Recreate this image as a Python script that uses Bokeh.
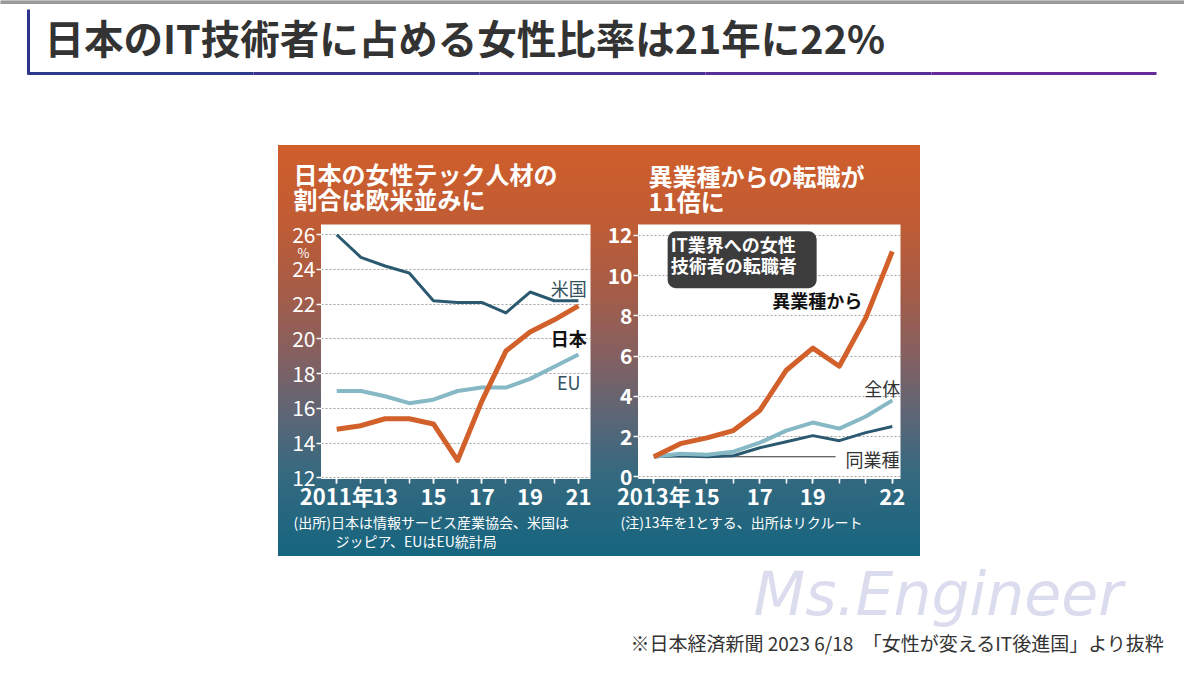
from bokeh.plotting import figure
from bokeh.models import ColumnDataSource, Range1d, FixedTicker, Label, Spacer, LinearAxis
from bokeh.layouts import row, column
from bokeh.embed import file_html
from bokeh.resources import INLINE
from bokeh.core.properties import value

FONT = "Noto Sans CJK JP"

# ---------------- data: left chart (share of women, %) ----------------
years_left = [2011, 2012, 2013, 2014, 2015, 2016, 2017, 2018, 2019, 2020, 2021]
usa = [26.0, 24.7, 24.2, 23.8, 22.2, 22.1, 22.1, 21.5, 22.7, 22.2, 22.2]
japan = [14.8, 15.0, 15.4, 15.4, 15.1, 13.0, 16.4, 19.3, 20.4, 21.1, 21.9]
eu = [17.0, 17.0, 16.7, 16.3, 16.5, 17.0, 17.2, 17.2, 17.7, 18.4, 19.1]
left_xticks = [2011, 2013, 2015, 2017, 2019, 2021]
left_xlabels = ["2011年", "13", "15", "17", "19", "21"]
left_yticks = [12, 14, 16, 18, 20, 22, 24, 26]
left_unit = "%"
left_names = ["米国", "日本", "EU"]
left_title = ["日本の女性テック人材の", "割合は欧米並みに"]
left_note = ["(出所)日本は情報サービス産業協会、米国は", "ジッピア、EUはEU統計局"]

# ---------------- data: right chart (index, 2013 = 1) ----------------
years_right = [2013, 2014, 2015, 2016, 2017, 2018, 2019, 2020, 2021, 2022]
from_other = [1.0, 1.65, 1.94, 2.3, 3.3, 5.3, 6.4, 5.5, 7.9, 11.2]
overall = [1.0, 1.15, 1.1, 1.25, 1.7, 2.3, 2.7, 2.4, 3.0, 3.8]
same_industry = [1.0, 1.05, 1.0, 1.05, 1.45, 1.75, 2.05, 1.8, 2.2, 2.5]
right_xticks = [2013, 2015, 2017, 2019, 2022]
right_xlabels = ["2013年", "15", "17", "19", "22"]
right_yticks = [0, 2, 4, 6, 8, 10, 12]
right_names = ["異業種から", "全体", "同業種"]
right_title = ["異業種からの転職が", "11倍に"]
right_note = ["(注)13年を1とする、出所はリクルート"]
box_text = "IT業界への女性\n技術者の転職者"
base_index = 1.0

ORANGE = "#d2602a"
DARK = "#2b5a70"
LIGHT = "#86b8c5"


def plain(width, height):
    p = figure(width=width, height=height, x_range=Range1d(0, width),
               y_range=Range1d(height, 0), output_backend="svg",
               toolbar_location=None, min_border=0,
               x_axis_type=None, y_axis_type=None)
    p.outline_line_color = None
    p.grid.visible = False
    p.frame_align = False
    return p


def text_panel(width, height, xs, ys, lines, size, style):
    p = plain(width, height)
    p.border_fill_color = None
    p.background_fill_color = None
    p.text(x=xs, y=ys, text=lines, text_color="white", text_font=value(FONT),
           text_font_size=size, text_font_style=style,
           text_baseline="middle", text_align="left")
    return p


def chart(width, xr, yr, bl, br, yticks, xticks, xlabels, years, ybold):
    p = figure(width=width, height=295, x_range=Range1d(*xr), y_range=Range1d(*yr),
               output_backend="svg", toolbar_location=None,
               min_border_left=bl, min_border_right=br,
               min_border_top=6, min_border_bottom=33)
    p.frame_align = False
    p.border_fill_color = None
    p.background_fill_color = "white"
    p.outline_line_color = None
    p.xgrid.visible = False
    p.ygrid.ticker = FixedTicker(ticks=yticks)
    p.ygrid.grid_line_color = "#a0a0a0"
    p.ygrid.grid_line_dash = "2 2"
    p.ygrid.grid_line_width = 1
    p.xaxis.ticker = FixedTicker(ticks=xticks, minor_ticks=years)
    p.xaxis.major_label_overrides = {t: l for t, l in zip(xticks, xlabels)}
    p.yaxis.ticker = FixedTicker(ticks=yticks, minor_ticks=[])
    for ax in (p.xaxis[0], p.yaxis[0]):
        ax.axis_line_color = "white"
        ax.major_tick_line_color = "white"
        ax.minor_tick_line_color = "white"
        ax.major_tick_line_width = 1.5
        ax.minor_tick_line_width = 1.5
        ax.major_tick_in = 0
        ax.minor_tick_in = 0
        ax.major_tick_out = 5
        ax.minor_tick_out = 5
        ax.major_label_text_color = "white"
        ax.major_label_text_font = FONT
    p.xaxis.major_label_text_font_size = "22px"
    p.xaxis.major_label_text_font_style = "bold"
    p.xaxis.major_label_standoff = -5
    p.yaxis.major_label_text_font_size = "21px"
    p.yaxis.major_label_text_font_style = "bold" if ybold else "normal"
    p.yaxis.major_label_standoff = 1
    return p


# ---------------- left panel ----------------
left = chart(320, (2010.37, 2021.5), (11.96, 26.59), 43, 8,
             left_yticks, left_xticks, left_xlabels, years_left, False)
src_l = ColumnDataSource(dict(x=years_left, usa=usa, japan=japan, eu=eu))
left.line("x", "eu", source=src_l, color=LIGHT, line_width=4, line_join="round")
left.line("x", "usa", source=src_l, color=DARK, line_width=3, line_join="round")
left.line("x", "japan", source=src_l, color=ORANGE, line_width=5, line_join="round")
left.text(x=[2020.6, 2020.6], y=[22.93, 17.5], text=[left_names[0], left_names[2]],
          text_color="#35515e", text_font=value(FONT), text_font_size="18px",
          text_align="center", text_baseline="middle")
left.text(x=[2020.6], y=[20.07], text=[left_names[1]], text_color="#111111",
          text_font=value(FONT), text_font_size="18px", text_font_style="bold",
          text_align="center", text_baseline="middle")
unit_axis = LinearAxis(ticker=FixedTicker(ticks=[25], minor_ticks=[]),
                       major_label_overrides={25: left_unit},
                       axis_line_color=None, major_tick_line_color=None,
                       minor_tick_line_color=None, major_tick_in=0, major_tick_out=0,
                       minor_tick_in=0, minor_tick_out=0,
                       major_label_standoff=-20, major_label_text_color="white",
                       major_label_text_font=FONT, major_label_text_font_size="13px")
left.add_layout(unit_axis, "left")
left_top = text_panel(320, 73, [15, 15], [28, 53], left_title, "24px", "bold")
left_bottom = text_panel(320, 43, [15, 57], [8, 27], left_note, "14px", "normal")

# ---------------- right panel ----------------
right = chart(322, (2012.42, 2022.31), (-0.08, 12.54), 40, 20,
              right_yticks, right_xticks, right_xlabels, years_right, True)
src_r = ColumnDataSource(dict(x=years_right, other=from_other, overall=overall,
                              same=same_industry))
right.segment(x0=[years_right[0]], y0=[base_index], x1=[2019.86], y1=[base_index],
              line_color="#333333", line_width=1.2)
right.line("x", "same", source=src_r, color=DARK, line_width=3, line_join="round")
right.line("x", "overall", source=src_r, color=LIGHT, line_width=4, line_join="round")
right.line("x", "other", source=src_r, color=ORANGE, line_width=5, line_join="round")
right.text(x=[2019.17], y=[8.79], text=[right_names[0]], text_color="#111111",
           text_font=value(FONT), text_font_size="18px", text_font_style="bold",
           text_align="center", text_baseline="middle")
right.text(x=[2021.62, 2021.25], y=[4.44, 0.9], text=[right_names[1], right_names[2]],
           text_color="#333333", text_font=value(FONT), text_font_size="18px",
           text_align="center", text_baseline="middle")
right.add_layout(Label(x=2013.52, y=12.2, text=box_text,
                       text_color="white", text_font=FONT, text_font_size="18px",
                       text_font_style="bold", text_align="left", text_baseline="top",
                       text_line_height=0.8,
                       background_fill_color="#3c3c3c", border_radius=8,
                       padding=(3, 20, 0, 10)))
right_top = text_panel(322, 73, [50, 50], [30, 55], right_title, "24px", "bold")
right_bottom = text_panel(322, 43, [22], [8], right_note, "14px", "normal")

gradient = ("linear-gradient(to bottom, #d05e2a 0%, #c15c34 18%, #a65c46 35%, "
            "#87605f 50%, #5f6574 65%, #35697f 80%, #15657f 100%)")
charts = row(column(left_top, left, left_bottom), column(right_top, right, right_bottom),
             styles={"background": gradient})

# ---------------- header ----------------
header = plain(1184, 145)
header.quad(left=[0], right=[1184], top=[0], bottom=[3], color="#9a9a9a")
header.segment(x0=[28], y0=[9], x1=[28], y1=[74], line_color="#2e338e", line_width=3)
seg_cols = ["#2d3a8c", "#3b3590", "#4a3194", "#582e98", "#672b9c"]
seg_x = [27, 253, 479, 705, 931, 1156]
header.segment(x0=seg_x[:-1], y0=[73] * 5, x1=seg_x[1:], y1=[73] * 5,
               line_color=seg_cols, line_width=3)
header.text(x=[44], y=[36], text=["日本のIT技術者に占める女性比率は21年に22%"],
            text_font=value(FONT), text_font_size="39.5px", text_font_style="bold",
            text_color="#333333", text_baseline="middle")

# ---------------- footer ----------------
footer = plain(1184, 102)
footer.text(x=[753], y=[37], text=["Ms.Engineer"], text_font=value("DejaVu Sans"),
            text_font_size="60px", text_font_style="italic", text_color="#dcdcef",
            text_baseline="middle")
footer.text(x=[630], y=[86], text=["※日本経済新聞 2023 6/18\u3000「女性が変えるIT後進国」より抜粋"],
            text_font=value(FONT), text_font_size="19px", text_color="#333333",
            text_baseline="middle")

mid = row(Spacer(width=278, height=411), charts, Spacer(width=264, height=411))
layout = column(header, mid, footer)

open("out.html", "w").write(file_html(layout, INLINE))
